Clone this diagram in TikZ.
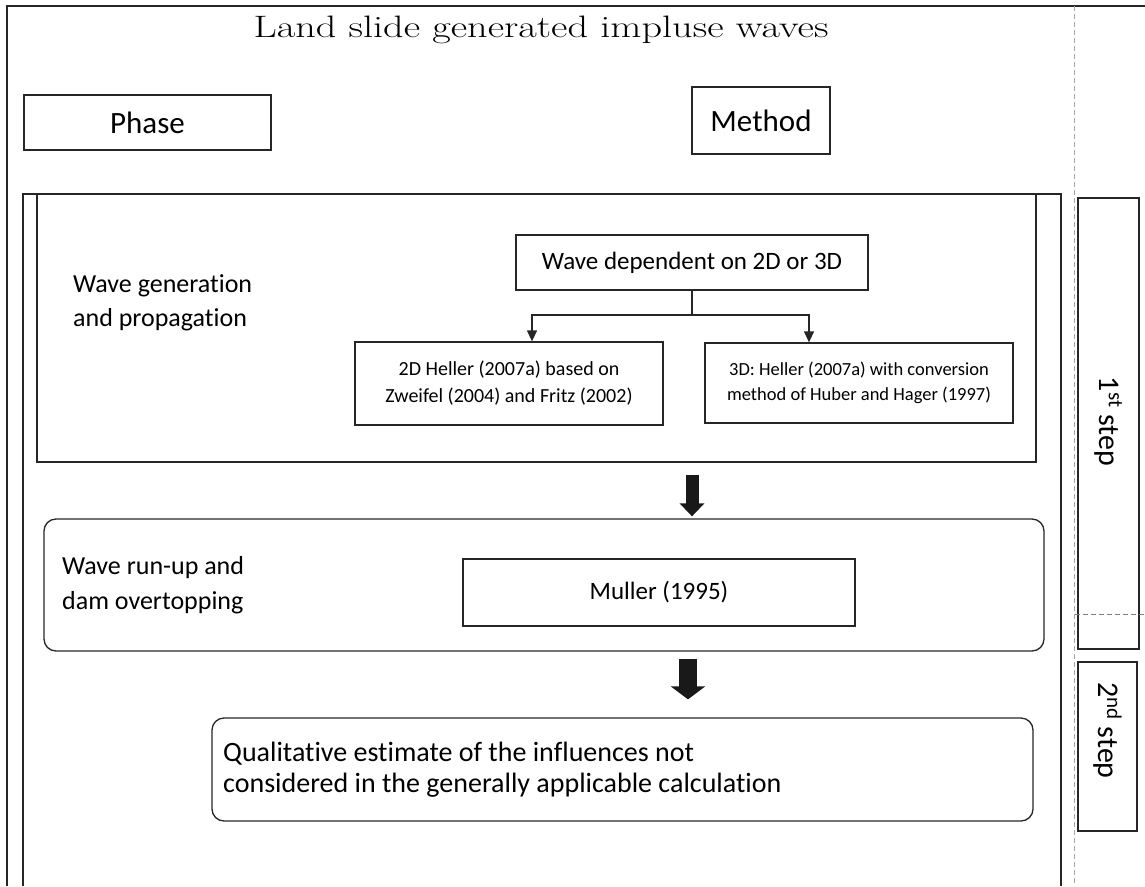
\documentclass[tikz,border=0pt]{standalone}
\usepackage{fontspec}
\newfontfamily\calfont[Ligatures=CommonOff]{Carlito}
\usetikzlibrary{arrows.meta,positioning}

\tikzset{
  box/.style={draw=black!85,line width=1.3pt,inner sep=0pt,align=center},
  rbox/.style={box,rounded corners=12pt},
  frame/.style={line width=1.3pt,black!85},
  guide/.style={gray!70,line width=1pt,dash pattern=on 5pt off 3pt},
  link/.style={line width=1.3pt,black!85,-{Triangle[width=10pt,length=11pt]}},
  bigarrow/.style={black!90,-{Triangle[width=#1,length=13pt]}},
  label/.style={anchor=west,align=left,inner sep=0pt},
}

\begin{document}
\begin{tikzpicture}[x=1pt,y=-1pt]
  \useasboundingbox (0,0) rectangle (1145,886);
  % frames round the page
  \draw[frame] (1145,6) -- (7,6) -- (7,886);
  \draw[guide] (1074,6) -- (1074,886);
  \draw[frame] (23,886) -- (23,194) -- (1061,194) -- (1061,886);
  % title and headers
  \node (title) at (541,30) {\fontsize{31}{36}\selectfont\scalebox{1.3}[1]{Land slide generated impluse waves}};
  \node[box,font=\calfont\fontsize{31}{36}\selectfont,minimum width=247,minimum height=55] (phase) at (147.5,122.5) {Phase};
  \node[box,font=\calfont\fontsize{31}{36}\selectfont,minimum width=138,minimum height=67] (method) at (761,120.5) {Method};
  % first phase
  \node[box,minimum width=999,minimum height=268] (wave) at (536.5,328) {};
  \node[label,font=\calfont\fontsize{26}{34}\selectfont] (wavetxt) at (73,303) {Wave generation\\and propagation};
  \node[box,font=\calfont\fontsize{25}{30}\selectfont,minimum width=352,minimum height=55] (dep) at (692,262.5) {Wave dependent on 2D or 3D};
  \node[box,font=\calfont\fontsize{20}{27}\selectfont,minimum width=308,minimum height=83] (twod) at (509,383.5) {2D Heller (2007a) based on\\Zweifel (2004) and Fritz (2002)};
  \node[box,font=\calfont\fontsize{18.5}{25}\selectfont,minimum width=308,minimum height=80] (threed) at (859,383) {3D: Heller (2007a) with conversion\\method of Huber and Hager (1997)};
  \coordinate (split) at (692,315);
  \draw[link] (dep.south) -- (split) -| ([xshift=23pt]twod.north);
  \draw[link] (split) -| ([xshift=-50pt]threed.north);
  % second phase
  \node[rbox,minimum width=1000,minimum height=132] (runup) at (544,585) {};
  \node[label,font=\calfont\fontsize{26}{35}\selectfont] (runtxt) at (62,585.5) {Wave run-up and\\dam overtopping};
  \node[box,font=\calfont\fontsize{25}{30}\selectfont,minimum width=392,minimum height=67] (muller) at (659,592.5) {\raisebox{4pt}{Muller (1995)}};
  % last phase
  \node[rbox,minimum width=821,minimum height=103] (qual) at (622.5,769.5) {};
  \node[label,font=\calfont\fontsize{28}{31}\selectfont] (qualtxt) at (223,770) {Qualitative estimate of the influences not\\considered in the generally applicable calculation};
  \draw[bigarrow=24pt,line width=13pt] ([yshift=-12pt]wave.south -| dep.south) -- ([yshift=2pt]runup.north -| dep.south);
  \draw[bigarrow=34pt,line width=18pt] ([yshift=-7pt]runup.south -| 688,0) -- ([yshift=18pt]qual.north -| 688,0);
  % steps
  \node[box,rotate=-90,font=\calfont\fontsize{30}{34}\selectfont,minimum width=451,minimum height=61] (first) at (1108.5,423.5) {1\textsuperscript{st} step\hspace*{4pt}};
  \node[box,rotate=-90,font=\calfont\fontsize{30}{34}\selectfont,minimum width=169,minimum height=59] (second) at (1107.5,746.5) {2\textsuperscript{nd} step\hspace*{32pt}};
  \draw[guide,gray] (1075,614) -- (1145,614);
\end{tikzpicture}
\end{document}
